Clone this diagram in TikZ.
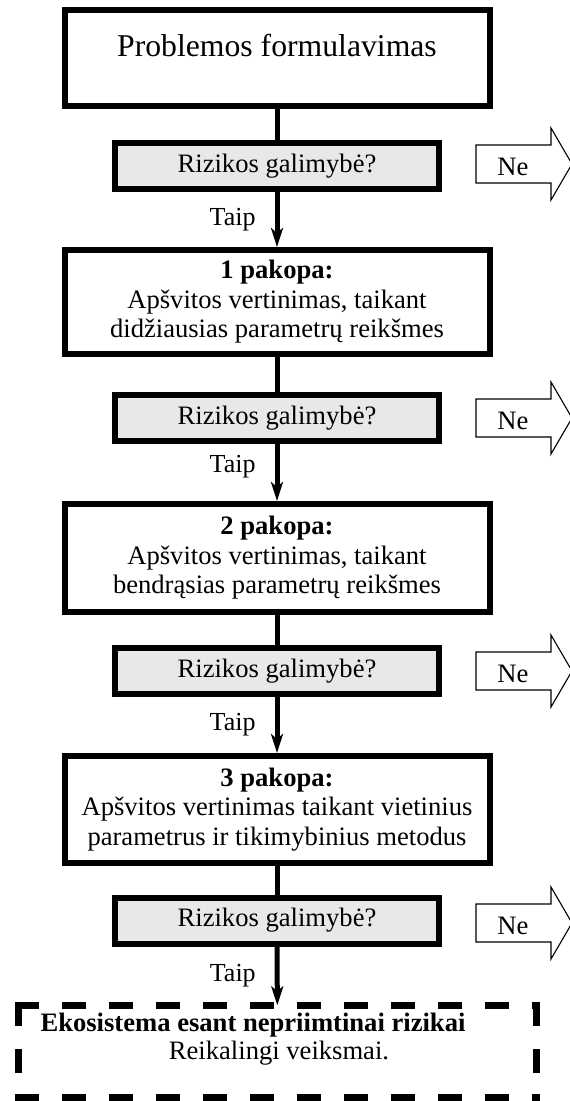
\documentclass[tikz,border=0pt]{standalone}
\usepackage{fontspec}
\setmainfont{Liberation Serif}
\usetikzlibrary{arrows.meta}

\definecolor{klausimas}{RGB}{232,232,232}

\tikzset{
  pakopa/.style={draw, line width=6pt, minimum width=425pt, inner sep=0pt, align=center, font=\fontsize{26.6}{29.5}\selectfont},
  klaus/.style={draw, line width=6pt, fill=klausimas, minimum width=324pt, minimum height=46pt, inner sep=0pt, font=\fontsize{26.6}{29}\selectfont},
  galas/.style={minimum width=518pt, minimum height=91.5pt, inner sep=0pt},
  bruksnys/.style={line width=7pt, line cap=rect, dash pattern=on 17pt off 30pt},
  jungtis/.style={line width=5pt},
  rodykle/.style={line width=5pt, -{Stealth[length=19pt,width=12pt,inset=5pt]}},
  taip/.style={left, inner sep=0pt, xshift=-19pt, font=\fontsize{26}{28}\selectfont},
  ne/.style={line width=1.1pt, fill=white},
  netekstas/.style={inner sep=0pt, font=\fontsize{26.6}{29}\selectfont}
}

\begin{document}
\begin{tikzpicture}[x=1pt,y=1pt,yscale=-1,xscale=1]
\path[use as bounding box] (0,0) rectangle (570,1101);
\clip (0,0) rectangle (570,1101);

%Shape: Rectangle
\node[pakopa, text height=46pt, text depth=50pt, font=\fontsize{31.7}{34}\selectfont] (prob) at (277,58) {Problemos formulavimas};
%Shape: Rectangle
\node[klaus] (k1) at (277,166) {Rizikos galimybė?};
%Shape: Rectangle
\node[pakopa, minimum height=104pt] (s1) at (277,302) {\textbf{1 pakopa:}\\Apšvitos vertinimas, taikant\\didžiausias parametrų reikšmes};
%Shape: Rectangle
\node[klaus] (k2) at (277,418) {Rizikos galimybė?};
%Shape: Rectangle
\node[pakopa, minimum height=108pt] (s2) at (277,558) {\textbf{2 pakopa:}\\Apšvitos vertinimas, taikant\\bendrąsias parametrų reikšmes};
%Shape: Rectangle
\node[klaus] (k3) at (277,671) {Rizikos galimybė?};
%Shape: Rectangle
\node[pakopa, minimum height=107pt] (s3) at (277,809.5) {\textbf{3 pakopa:}\\Apšvitos vertinimas taikant vietinius\\parametrus ir tikimybinius metodus};
%Shape: Rectangle
\node[klaus] (k4) at (277,920.5) {Rizikos galimybė?};
%Shape: Rectangle (dashed)
\node[galas] (ekos) at (277.5,1051.25) {};
\draw[bruksnys] (ekos.north west) -- (ekos.north east);
\draw[bruksnys] (ekos.north west) -- (ekos.south west);
\draw[bruksnys] (ekos.south west) -- (ekos.south east);
\draw[bruksnys] (ekos.north east) -- (ekos.south east);

%Straight Lines
\draw[jungtis] (prob) -- (k1);
\draw[rodykle] (k1) -- node[taip] (taip1) {Taip} (s1);
\draw[jungtis] (s1) -- (k2);
\draw[rodykle] (k2) -- node[taip, pos=0.4] (taip2) {Taip} (s2);
\draw[jungtis] (s2) -- (k3);
\draw[rodykle] (k3) -- node[taip] (taip3) {Taip} (s3);
\draw[jungtis] (s3) -- (k4);
\draw[rodykle] (k4) -- node[taip] (taip4) {Taip} (ekos);

%Shape: Right Arrow
\draw[ne] (476,145) -- (551,145) -- (551,128) -- (572,164) -- (551,200) -- (551,183) -- (476,183) -- cycle;
%Shape: Right Arrow
\draw[ne] (476,399) -- (551,399) -- (551,382) -- (572,418) -- (551,454) -- (551,437) -- (476,437) -- cycle;
%Shape: Right Arrow
\draw[ne] (476,652) -- (551,652) -- (551,635) -- (572,671) -- (551,707) -- (551,690) -- (476,690) -- cycle;
%Shape: Right Arrow
\draw[ne] (476,904) -- (551,904) -- (551,887) -- (572,923) -- (551,959) -- (551,942) -- (476,942) -- cycle;

% Text Node
\node[netekstas] (ne1) at (513,167) {Ne};
% Text Node
\node[netekstas] (ne2) at (513,421) {Ne};
% Text Node
\node[netekstas] (ne3) at (513,674) {Ne};
% Text Node
\node[netekstas] (ne4) at (513,926) {Ne};
% Text Node
\node[align=center, inner sep=0pt, font=\fontsize{26.6}{28}\selectfont] (ekostekstas) at (253,1039) {\textbf{Ekosistema esant nepriimtinai rizikai}\\\hspace*{52pt}Reikalingi veiksmai.};

\end{tikzpicture}
\end{document}
